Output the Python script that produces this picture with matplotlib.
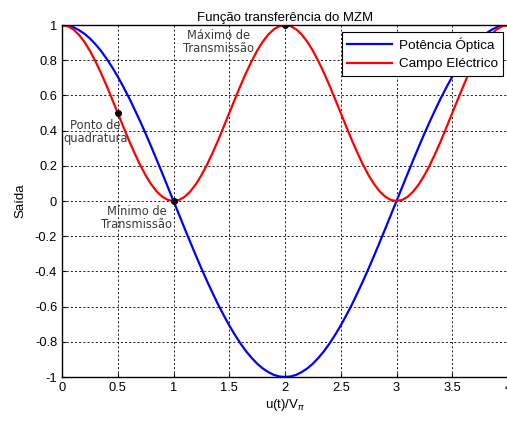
import numpy as np
import matplotlib
matplotlib.use("Agg")
import matplotlib.pyplot as plt
from matplotlib.ticker import FormatStrFormatter

# normalised drive voltage u(t)/V_pi, sampled every 0.05
u = np.round(np.arange(0, 4.0001, 0.05), 2)

# optical power curve
potencia = [1.000, 0.997, 0.988, 0.972, 0.951, 0.924, 0.891, 0.853, 0.809, 0.760,
            0.707, 0.649, 0.588, 0.522, 0.454, 0.383, 0.309, 0.233, 0.156, 0.078,
            0.000, -0.078, -0.156, -0.233, -0.309, -0.383, -0.454, -0.522, -0.588, -0.649,
            -0.707, -0.760, -0.809, -0.853, -0.891, -0.924, -0.951, -0.972, -0.988, -0.997,
            -1.000, -0.997, -0.988, -0.972, -0.951, -0.924, -0.891, -0.853, -0.809, -0.760,
            -0.707, -0.649, -0.588, -0.522, -0.454, -0.383, -0.309, -0.233, -0.156, -0.078,
            0.000, 0.078, 0.156, 0.233, 0.309, 0.383, 0.454, 0.522, 0.588, 0.649,
            0.707, 0.760, 0.809, 0.853, 0.891, 0.924, 0.951, 0.972, 0.988, 0.997, 1.000]

# electric field curve
campo = [1.000, 0.994, 0.976, 0.946, 0.905, 0.854, 0.794, 0.727, 0.655, 0.578,
         0.500, 0.422, 0.345, 0.273, 0.206, 0.146, 0.095, 0.054, 0.024, 0.006,
         0.000, 0.006, 0.024, 0.054, 0.095, 0.146, 0.206, 0.273, 0.345, 0.422,
         0.500, 0.578, 0.655, 0.727, 0.794, 0.854, 0.905, 0.946, 0.976, 0.994,
         1.000, 0.994, 0.976, 0.946, 0.905, 0.854, 0.794, 0.727, 0.655, 0.578,
         0.500, 0.422, 0.345, 0.273, 0.206, 0.146, 0.095, 0.054, 0.024, 0.006,
         0.000, 0.006, 0.024, 0.054, 0.095, 0.146, 0.206, 0.273, 0.345, 0.422,
         0.500, 0.578, 0.655, 0.727, 0.794, 0.854, 0.905, 0.946, 0.976, 0.994, 1.000]

# marked operating points and their labels
pontos_x = [0.5, 1.0, 2.0]
pontos_y = [0.5, 0.0, 1.0]
notas = ["Máximo de\nTransmissão", "Ponto de\nquadratura", "Mínimo de\nTransmissão"]
notas_x = [1.40, 0.30, 0.67]
notas_y = [0.905, 0.395, -0.094]

xticks = [0, 0.5, 1, 1.5, 2, 2.5, 3, 3.5, 4]
yticks = [-1, -0.8, -0.6, -0.4, -0.2, 0, 0.2, 0.4, 0.6, 0.8, 1]

plt.rcParams['font.family'] = ['Liberation Sans', 'DejaVu Sans']

fig = plt.figure(figsize=(5.07, 4.21), dpi=100)
ax = fig.add_axes([0.1223, 0.1045, 0.8797, 0.836])

ax.plot(u, potencia, color='#0000ff', lw=1.6, label='Potência Óptica')
ax.plot(u, campo, color='#ff0000', lw=1.6, label='Campo Eléctrico')
ax.plot(pontos_x, pontos_y, 'o', color='black', ms=4, zorder=5)

for txt, tx, ty in zip(notas, notas_x, notas_y):
    ax.text(tx, ty, txt, ha='center', va='center', fontsize=8.3,
            color='#3a3a3a', family='DejaVu Sans', linespacing=1.0)

ax.set_xlim(0, 4)
ax.set_ylim(-1, 1)
ax.set_xticks(xticks)
ax.set_yticks(yticks)
ax.xaxis.set_major_formatter(FormatStrFormatter('%g'))
ax.yaxis.set_major_formatter(FormatStrFormatter('%g'))
ax.tick_params(direction='in', length=3, labelsize=9.3, width=0.8)
ax.grid(True, color='black', linestyle=(0, (2.5, 2.5)), lw=0.6)
for s in ax.spines.values():
    s.set_linewidth(1.0)

ax.set_title('Função transferência do MZM', fontsize=9.5, pad=3)
ax.set_xlabel(r'u(t)/V$_\pi$', fontsize=9.5, labelpad=2)
ax.set_ylabel('Saída', fontsize=9.5, labelpad=6)

leg = ax.legend(loc='upper right', bbox_to_anchor=(0.989, 0.980), borderaxespad=0,
                fontsize=9.7, fancybox=False, framealpha=1, edgecolor='black',
                handlelength=3.3, borderpad=0.4, labelspacing=0.45, handletextpad=0.5)
leg.get_frame().set_linewidth(0.8)

fig.savefig('out.png', dpi=100)
